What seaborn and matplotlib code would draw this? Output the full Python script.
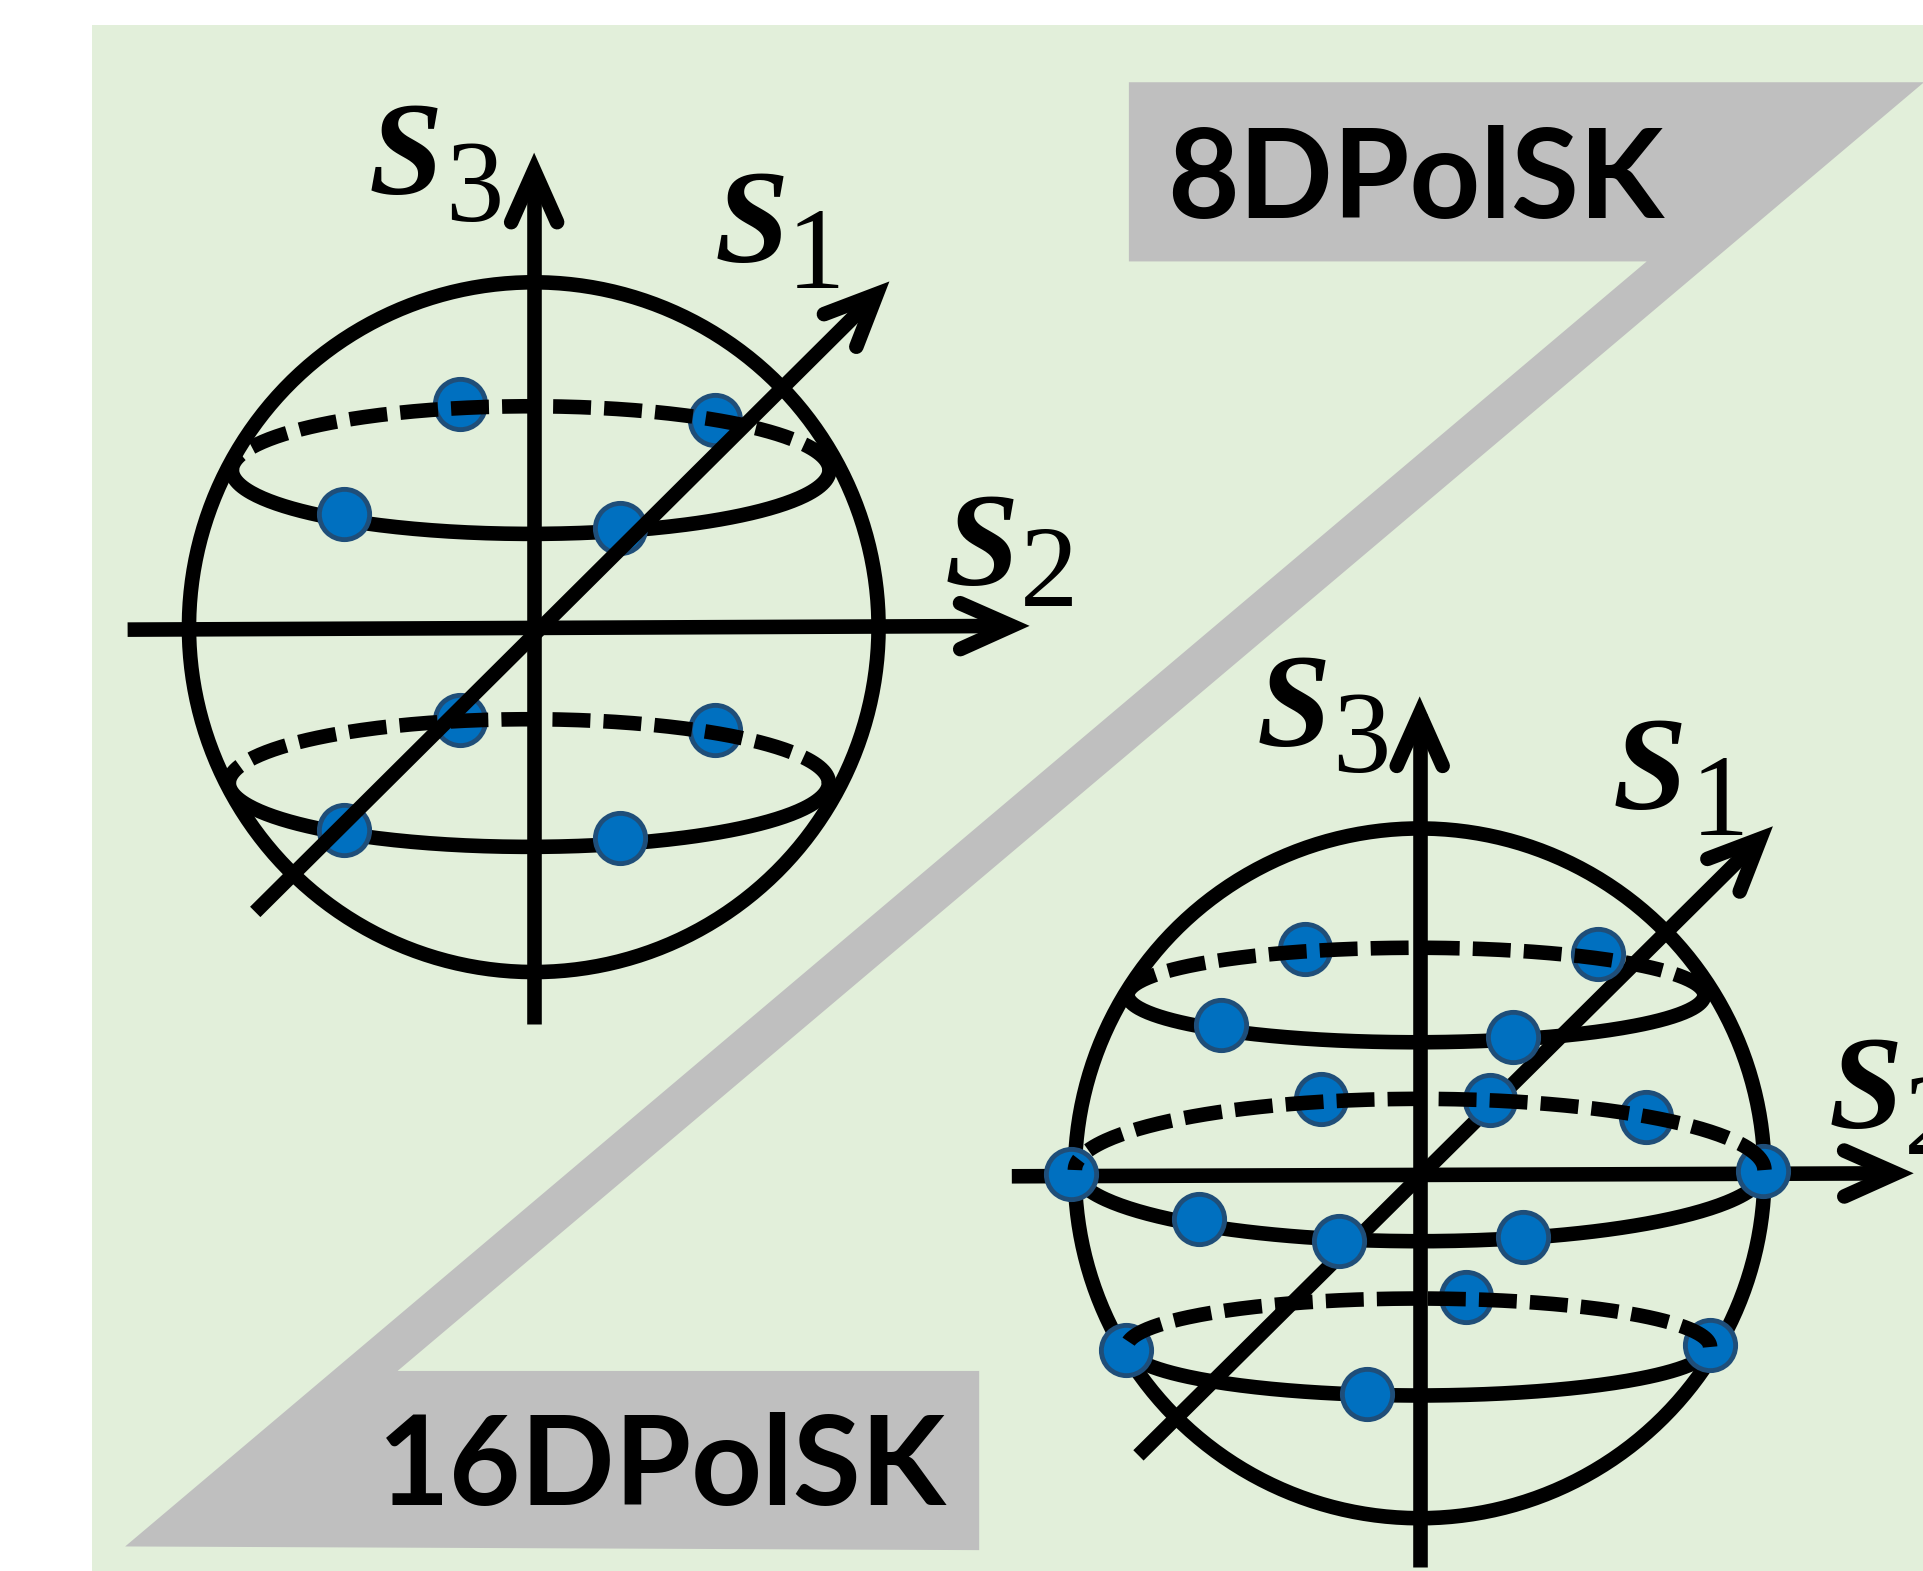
import numpy as np
import pandas as pd
import seaborn as sns
import matplotlib.pyplot as plt

# reference canvas units (image is 1568 x 1280 units, y down)
W, H = 1568, 1280

panel_x = [75, 1568]
panel_y = [20, 1280]

# grey "Z" band joining the two label boxes
band_x = [920, 1568, 324, 798, 798, 102, 1342, 920]
band_y = [67, 67, 1117, 1117, 1263, 1260, 213, 213]

labels = ['8DPolSK', '16DPolSK']
label_x = [951, 308]
label_y = [178, 1226]

# Poincare spheres
sphere_cx = [435, 1157]
sphere_cy = [511, 956]
sphere_r = [281, 281]

# latitude rings: centre, half width, half height
ring_cx = [432.5, 431, 1154, 1157, 1156]
ring_cy = [383, 638, 810.7, 953.3, 1097.5]
ring_a = [243.5, 244.5, 235, 281, 237.7]
ring_b = [52, 52, 38.5, 58, 39.5]

# Stokes axes: tail and tip
axis_name = ['S3', 'S2', 'S1', 'S3', 'S2', 'S1']
axis_x0 = [435.3, 104, 208, 1157, 824.6, 927.8]
axis_y0 = [834, 513, 743, 1277, 958.4, 1185.8]
axis_x1 = [435.3, 824.5, 714.5, 1157, 1545, 1434.5]
axis_y1 = [139, 510, 239.6, 582, 956, 683.5]

# axis labels (S + subscript)
lab_sub = ['3', '1', '2', '3', '1', '2']
lab_sx = [300, 582.7, 770, 1023.9, 1314.4, 1490]
lab_sy = [158, 213.5, 477, 608, 659, 919]
lab_dx = [363, 641, 831, 1086, 1378, 1552]
lab_dy = [180, 235, 494, 629.4, 680, 940]

# constellation points
pts8_x = [374.7, 582.7, 280, 505.6, 374.8, 582.9, 280, 505.5]
pts8_y = [329, 342.3, 419, 430, 586.8, 595, 676.4, 683]
pts16_x = [1063.3, 1302.4, 995.1, 1232.8, 1076.7, 1214.6, 1341.8, 872.6,
           1436.9, 976.9, 1091.6, 1241.5, 1194.4, 917.3, 1393.7, 1113.7]
pts16_y = [773.0, 777.1, 835.5, 844.6, 895.3, 896.4, 910.5, 956.2,
           953.8, 993.3, 1011.2, 1007.9, 1056.8, 1100.2, 1096.2, 1136.1]

green = '#E2EFDA'
grey = '#BFBFBF'
dot_face = '#0070C0'
dot_edge = '#1F4E79'
LW = 10.5


def arrow_head(ax, x0, y0, x1, y1, length=46, half=24, z=3):
    u = np.array([x0 - x1, y0 - y1], dtype=float)
    u /= np.hypot(*u)
    pts = []
    for s in (1, -1):
        a = np.radians(half) * s
        r = np.array([[np.cos(a), -np.sin(a)], [np.sin(a), np.cos(a)]]) @ u
        pts.append((x1 + r[0] * length, y1 + r[1] * length))
    ax.plot([pts[0][0], x1, pts[1][0]], [pts[0][1], y1, pts[1][1]], color='black',
            lw=LW, solid_capstyle='round', solid_joinstyle='miter', zorder=z)


sns.set_theme(style='white')
plt.rcParams['text.color'] = 'black'
fig = plt.figure(figsize=(19.24, 15.71), dpi=100)
fig.patch.set_facecolor('white')
ax = fig.add_axes([0, 0, 1, 1])

ax.fill([panel_x[0], panel_x[1], panel_x[1], panel_x[0]],
        [panel_y[0], panel_y[0], panel_y[1], panel_y[1]], color=green, lw=0, zorder=0)
ax.fill(band_x, band_y, color=grey, lw=0, zorder=1)

t = np.linspace(0, 2 * np.pi, 400)
for cx, cy, r in zip(sphere_cx, sphere_cy, sphere_r):
    ax.plot(cx + r * np.cos(t), cy + r * np.sin(t), color='black', lw=LW, zorder=3)

th = np.linspace(0, np.pi, 200)
for cx, cy, a, b in zip(ring_cx, ring_cy, ring_a, ring_b):
    ax.plot(cx + a * np.cos(th), cy + b * np.sin(th), color='black', lw=LW,
            solid_capstyle='round', zorder=3)
    ax.plot(cx + a * np.cos(th), cy - b * np.sin(th), color='black', lw=LW,
            linestyle=(0, (2.6, 0.9)), zorder=5)

for i in range(len(axis_name)):
    z = 5 if (i == 2) else 3
    ax.plot([axis_x0[i], axis_x1[i]], [axis_y0[i], axis_y1[i]], color='black',
            lw=LW, solid_capstyle='butt', zorder=z)
    arrow_head(ax, axis_x0[i], axis_y0[i], axis_x1[i], axis_y1[i], z=z)

pts = pd.DataFrame({'x': pts8_x + pts16_x, 'y': pts8_y + pts16_y})
sns.scatterplot(data=pts, x='x', y='y', s=1310, color=dot_face, edgecolor=dot_edge,
                linewidth=3.5, ax=ax, zorder=4, legend=False)
ax.set_xlim(0, W)
ax.set_ylim(H, 0)
ax.axis('off')

for i in range(len(lab_sub)):
    ax.text(lab_sx[i], lab_sy[i], 'S', family=['Liberation Serif', 'DejaVu Serif'],
            fontstyle='italic', fontweight='bold', fontsize=96, color='black',
            ha='left', va='baseline', zorder=6)
    ax.text(lab_dx[i], lab_dy[i], lab_sub[i], family=['Liberation Serif', 'DejaVu Serif'],
            fontsize=84, color='black', ha='left', va='baseline', zorder=6)

for txt, x, y in zip(labels, label_x, label_y):
    ax.text(x, y, txt, family=['Lato', 'DejaVu Sans'], fontweight='bold', fontsize=89,
            color='black', ha='left', va='baseline', zorder=6)

fig.savefig('out.png', dpi=100, facecolor='white')
